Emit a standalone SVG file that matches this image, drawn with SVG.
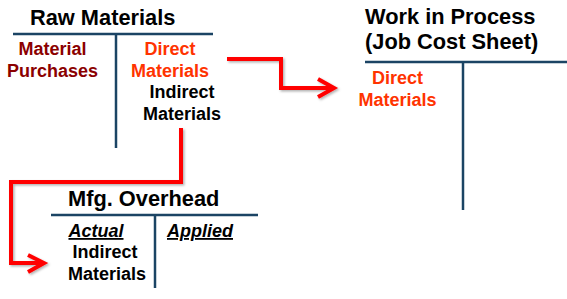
<svg xmlns="http://www.w3.org/2000/svg" width="567" height="299" viewBox="0 0 567 299">
  <style>
    text { font-family: "Liberation Sans", Arial, sans-serif; font-weight: bold; }
    .title { font-size: 21.8px; fill: #000; }
    .body { font-size: 18px; text-anchor: middle; }
    .dr { fill: #8B0000; }
    .or { fill: #FF3300; }
    .bk { fill: #000; }
    .tline { stroke: #1B4464; stroke-width: 2.5; fill: none; }
    .flow { stroke: #FF0000; stroke-width: 4; fill: none; stroke-linejoin: miter; }
  </style>
  <defs>
    <filter id="shadow" x="-10%" y="-10%" width="130%" height="130%">
      <feDropShadow dx="1.5" dy="1.5" stdDeviation="1" flood-color="#000" flood-opacity="0.3"/>
    </filter>
  </defs>

  <g id="raw-materials">
    <text class="title" x="30" y="25">Raw Materials</text>
    <line class="tline" x1="13" y1="34" x2="213" y2="34"/>
    <line class="tline" x1="116" y1="34" x2="116" y2="148"/>
    <text class="body dr" x="52.5" y="55">Material</text>
    <text class="body dr" x="52.5" y="77">Purchases</text>
    <text class="body or" x="170" y="55">Direct</text>
    <text class="body or" x="170" y="77">Materials</text>
    <text class="body bk" x="182" y="98">Indirect</text>
    <text class="body bk" x="182" y="120">Materials</text>
  </g>

  <g id="work-in-process">
    <text class="title" x="365" y="24">Work in Process</text>
    <text class="title" x="365" y="49">(Job Cost Sheet)</text>
    <line class="tline" x1="365" y1="62" x2="567" y2="62"/>
    <line class="tline" x1="463" y1="62" x2="463" y2="210"/>
    <text class="body or" x="397.5" y="84">Direct</text>
    <text class="body or" x="397.5" y="106">Materials</text>
  </g>

  <g id="mfg-overhead">
    <text class="title" x="68" y="206">Mfg. Overhead</text>
    <line class="tline" x1="51" y1="215" x2="258" y2="215"/>
    <line class="tline" x1="155" y1="215" x2="155" y2="288"/>
    <text class="body bk" x="96" y="237" font-style="italic" text-decoration="underline">Actual</text>
    <text class="bk" x="167" y="237" font-size="18" font-style="italic" text-decoration="underline">Applied</text>
    <text class="body bk" x="105" y="258">Indirect</text>
    <text class="body bk" x="107" y="280">Materials</text>
  </g>

  <g id="connectors" filter="url(#shadow)">
    <polyline class="flow" points="227,59 281,59 281,88 334,88"/>
    <polyline class="flow" points="318,79 334,88 318,97"/>
    <polyline class="flow" points="181,128 181,182 11,182 11,263 44,263"/>
    <polyline class="flow" points="28,255 44,263 28,272"/>
  </g>
</svg>
